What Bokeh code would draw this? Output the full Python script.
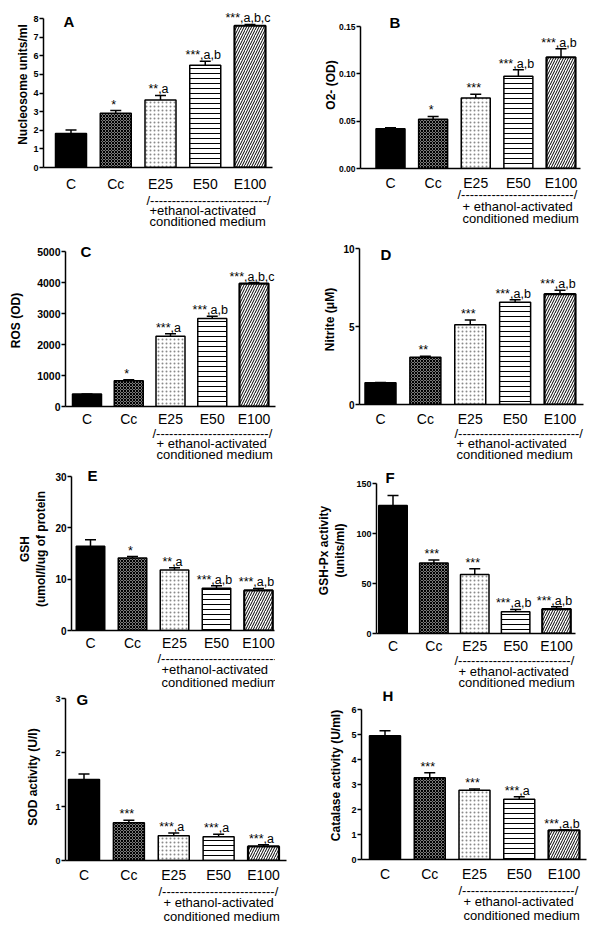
from bokeh.plotting import figure
from bokeh.models import (Range1d, FixedTicker, ColumnDataSource, Whisker, TeeHead, LabelSet,
                          Label, Title)
from bokeh.layouts import row, column
from bokeh.core.properties import value
from bokeh.embed import file_html
from bokeh.resources import INLINE

# ---------------- data ----------------
CATEGORIES = ["C", "Cc", "E25", "E50", "E100"]
NOTE_LINE2 = "conditioned medium"

A_VALUES = [1.83, 2.91, 3.63, 5.49, 7.61]
A_ERRORS = [0.18, 0.15, 0.24, 0.21, 0.07]
A_MARKS = ["", "*", "**,a", "***,a,b", "***,a,b,c"]
A_TICKS = [0, 1, 2, 3, 4, 5, 6, 7, 8]
A_TICK_LABELS = ["0", "1", "2", "3", "4", "5", "6", "7", "8"]
A_YLABEL = "Nucleosome units/ml"
A_NOTE = "+ethanol-activated"

B_VALUES = [0.042, 0.052, 0.0745, 0.0975, 0.1175]
B_ERRORS = [0.001, 0.003, 0.004, 0.0067, 0.009]
B_MARKS = ["", "*", "***", "***,a,b", "***,a,b"]
B_TICKS = [0, 0.05, 0.10, 0.15]
B_TICK_LABELS = ["0.00", "0.05", "0.10", "0.15"]
B_YLABEL = "O2- (OD)"
B_NOTE = "+ ethanol-activated"

C_VALUES = [400, 830, 2270, 2840, 3965]
C_ERRORS = [0, 30, 75, 75, 35]
C_MARKS = ["", "*", "***,a", "***,a,b", "***,a,b,c"]
C_TICKS = [0, 1000, 2000, 3000, 4000, 5000]
C_TICK_LABELS = ["0", "1000", "2000", "3000", "4000", "5000"]
C_YLABEL = "ROS (OD)"
C_NOTE = "+ ethanol-activated"

D_VALUES = [1.39, 3.03, 5.12, 6.55, 7.08]
D_ERRORS = [0.02, 0.06, 0.30, 0.17, 0.25]
D_MARKS = ["", "**", "***", "***,a,b", "***,a,b"]
D_TICKS = [0, 5, 10]
D_TICK_LABELS = ["0", "5", "10"]
D_YLABEL = "Nitrite (\u03bcM)"
D_NOTE = "+ ethanol-activated"

E_VALUES = [16.4, 14.1, 11.8, 8.25, 7.8]
E_ERRORS = [1.3, 0.3, 0.4, 0.45, 0.4]
E_MARKS = ["", "*", "**,a", "***,a,b", "***,a,b"]
E_TICKS = [0, 10, 20, 30]
E_TICK_LABELS = ["0", "10", "20", "30"]
E_YLABEL = "GSH\n(umol/l/ug of protein"
E_NOTE = "+ethanol-activated"

F_VALUES = [128.0, 70.6, 59.0, 21.8, 24.4]
F_ERRORS = [10.0, 3.0, 5.7, 2.3, 2.4]
F_MARKS = ["", "***", "***", "***,a,b", "***,a,b"]
F_TICKS = [0, 50, 100, 150]
F_TICK_LABELS = ["0", "50", "100", "150"]
F_YLABEL = "GSH-Px activity\n(units/ml)"
F_NOTE = "+ ethanol-activated"

G_VALUES = [1.50, 0.70, 0.46, 0.44, 0.26]
G_ERRORS = [0.10, 0.045, 0.05, 0.045, 0.03]
G_MARKS = ["", "***", "***,a", "***,a", "***,a"]
G_TICKS = [0, 1, 2, 3]
G_TICK_LABELS = ["0", "1", "2", "3"]
G_YLABEL = "SOD activity (U/l)"
G_NOTE = "+ ethanol-activated"

H_VALUES = [4.95, 3.27, 2.77, 2.41, 1.17]
H_ERRORS = [0.20, 0.20, 0.05, 0.10, 0.02]
H_MARKS = ["", "***", "***", "***,a", "***,a,b"]
H_TICKS = [0, 1, 2, 3, 4, 5, 6]
H_TICK_LABELS = ["0", "1", "2", "3", "4", "5", "6"]
H_YLABEL = "Catalase activity (U/ml)"
H_NOTE = "+ ethanol-activated"

# ---------------- styles ----------------
FONT = "Liberation Sans"
BAR_FILL = ["black", "#7a7a7a", "white", "white", "white"]
BAR_HATCH = ["blank", "diagonal_cross", "dot", "horizontal_line", "right_diagonal_line"]
BAR_HATCH_COLOR = ["black", "black", "#8a8a8a", "black", "black"]
BAR_HATCH_SCALE = [4, 3, 4, 5, 5]
BAR_LINE_W = [1.5, 1.5, 1.5, 1.5, 2.2]
LBL_H = 17     # approx. box height of 14px labels
TH = 16.5      # approx. box height of 13px titles

# pixel layout of each panel: frame=(axis left, axis right end, axis top, axis bottom)
LAYOUT = {
    "A": dict(fig=(0, 0, 300, 233), frame=(43, 272, 18, 167), centers=(70.5, 249.5), bar=31,
              letter=(63, 21), dash=(146, 271, 199), sub=(149, 210, 222), cat_y=184, tick_fs=9, yl_so=0),
    "B": dict(fig=(300, 0, 293, 233), frame=(360, 580, 26, 168), centers=(390, 560.5), bar=29,
              letter=(389, 21.5), dash=(457, 578, 193), sub=(462, 206, 219), cat_y=182, tick_fs=8.5, yl_so=-2),
    "C": dict(fig=(0, 233, 300, 233), frame=(65, 275, 251, 406), centers=(86.5, 253.5), bar=29,
              letter=(80, 250.5), dash=(152, 273, 432), sub=(156, 443, 455), cat_y=419, tick_fs=10.5, yl_so=11),
    "D": dict(fig=(300, 233, 293, 233), frame=(359, 583, 248, 404), centers=(380, 559.5), bar=31,
              letter=(380, 253.5), dash=(454, 583, 432), sub=(456, 443, 455), cat_y=419, tick_fs=10, yl_so=3),
    "E": dict(fig=(0, 466, 275, 226), frame=(71, 274, 476, 630), centers=(90, 258), bar=28.5,
              letter=(87, 475), dash=(157, 290, 657), sub=(161, 669, 683), cat_y=643, tick_fs=10, yl_so=4),
    "F": dict(fig=(300, 466, 293, 224), frame=(376, 575, 483, 633), centers=(392.5, 556), bar=28.5,
              letter=(385, 477), dash=(454, 575, 659), sub=(458, 671, 683), cat_y=646, tick_fs=9, yl_so=6),
    "G": dict(fig=(0, 692, 300, 238), frame=(65, 286, 698, 860), centers=(83.5, 263), bar=31,
              letter=(76, 698.5), dash=(158, 276, 890), sub=(163, 902, 917), cat_y=874, tick_fs=9, yl_so=12),
    "H": dict(fig=(300, 690, 293, 240), frame=(361, 586, 709, 859), centers=(384.5, 563.5), bar=31,
              letter=(382, 695), dash=(458, 578, 889), sub=(463, 901, 916), cat_y=874, tick_fs=9, yl_so=5),
}


def panel(letter, values, errors, marks, ticks, tick_labels, ylabel, note):
    L = LAYOUT[letter]
    fx, fy, fw, fh = L["fig"]
    fl, fr, at, fb = L["frame"]
    c1, c5 = L["centers"]
    n = len(CATEGORIES)
    sp = (c5 - c1) / (n - 1)
    mbl = round(fl - fx)
    fl = fx + mbl
    x0 = 1 - (c1 - fl) / sp
    x_axis_end = n + (fr - c5) / sp
    fr2 = min(fx + fw, fr + 8)
    x1 = n + (fr2 - c5) / sp
    ymax = ticks[-1]
    ft2 = fy + 1
    y_top = ymax * (fb - ft2) / (fb - at)

    def X(px):
        return x0 + (px - fl) / sp

    def Y(py):
        return ymax * (fb - py) / (fb - at)

    p = figure(width=fw, height=fh, x_range=Range1d(x0, x1), y_range=Range1d(0, y_top),
               output_backend="svg", toolbar_location=None, frame_align=False,
               min_border_left=mbl, min_border_right=round(fx + fw - fr2),
               min_border_top=round(ft2 - fy), min_border_bottom=round(fy + fh - fb))
    p.grid.visible = False
    p.outline_line_color = None
    p.background_fill_color = "white"
    p.border_fill_color = "white"

    xs = list(range(1, n + 1))
    src = ColumnDataSource(dict(
        x=xs, top=values, hi=[v + e for v, e in zip(values, errors)], mark=marks,
        fill=BAR_FILL, hatch=BAR_HATCH, hcol=BAR_HATCH_COLOR, hscale=BAR_HATCH_SCALE, lw=BAR_LINE_W))

    p.vbar(x="x", top="top", bottom=0, width=L["bar"] / sp, source=src,
           fill_color="fill", line_color="black", line_width="lw",
           hatch_pattern="hatch", hatch_color="hcol", hatch_scale="hscale", hatch_weight=1)

    p.add_layout(Whisker(source=src, base="x", lower="top", upper="hi", dimension="height",
                         line_color="black", line_width=1.5,
                         upper_head=TeeHead(size=11, line_color="black", line_width=1.5),
                         lower_head=None))

    p.add_layout(LabelSet(source=src, x="x", y="hi", text="mark", text_align="center",
                          text_baseline="alphabetic", x_offset=-2, y_offset=2,
                          text_font=value(FONT), text_font_size=value("12.5px"), text_color="black"))

    p.add_layout(Label(x=X(L["letter"][0]), y=Y(L["letter"][1]), text=letter, text_font=FONT,
                       text_font_size="15px", text_font_style="bold", text_align="left",
                       text_baseline="middle", text_color="black"))

    xa = p.xaxis[0]
    xa.ticker = FixedTicker(ticks=xs)
    xa.bounds = (x0, x_axis_end)
    xa.major_label_overrides = {i + 1: c for i, c in enumerate(CATEGORIES)}
    xa.major_tick_line_color = None
    xa.minor_tick_line_color = None
    xa.major_tick_out = 0
    xa.major_tick_in = 0
    xa.axis_line_width = 1.5
    xa.axis_line_color = "black"
    xa.major_label_text_font = FONT
    xa.major_label_text_font_size = "14px"
    xa.major_label_text_color = "black"
    s_cat = max(0, round(L["cat_y"] - fb - LBL_H / 2))
    xa.major_label_standoff = s_cat

    # the bracket and the two-line note under E25..E100
    dl, dr, dy = L["dash"]
    nd = max(1, round((dr - dl - 7.2) / 4.33))
    sx, sy1, sy2 = L["sub"]
    cur = fb + s_cat + LBL_H
    for txt, left, cy in (("/" + "-" * nd + "/", dl, dy - 1), (note, sx, sy1), (NOTE_LINE2, sx, sy2)):
        st = max(-round(2 + TH) + 2, round(2 * (cy - cur) - (2 + TH)))
        p.add_layout(Title(text=txt, align="left", offset=left - fl, standoff=st,
                           vertical_align="middle", text_font=FONT, text_font_size="13px",
                           text_font_style="normal", text_color="black"), "below")
        cur += 2 + TH + st

    ya = p.yaxis[0]
    ya.ticker = FixedTicker(ticks=ticks)
    ya.bounds = (0, ymax)
    ya.major_label_overrides = dict(zip(ticks, tick_labels))
    ya.major_tick_out = 4
    ya.major_tick_in = 0
    ya.major_tick_line_width = 1.5
    ya.major_tick_line_color = "black"
    ya.minor_tick_line_color = None
    ya.axis_line_width = 1.5
    ya.axis_line_color = "black"
    ya.major_label_text_font = FONT
    ya.major_label_text_font_style = "bold"
    ya.major_label_text_font_size = f"{L['tick_fs']}px"
    ya.major_label_text_color = "black"
    ya.major_label_standoff = 1
    ya.axis_label = ylabel
    ya.axis_label_text_font = FONT
    ya.axis_label_text_font_style = "bold"
    ya.axis_label_text_font_size = "12px"
    ya.axis_label_text_color = "black"
    ya.axis_label_standoff = L["yl_so"]
    return p


pA = panel("A", A_VALUES, A_ERRORS, A_MARKS, A_TICKS, A_TICK_LABELS, A_YLABEL, A_NOTE)
pB = panel("B", B_VALUES, B_ERRORS, B_MARKS, B_TICKS, B_TICK_LABELS, B_YLABEL, B_NOTE)
pC = panel("C", C_VALUES, C_ERRORS, C_MARKS, C_TICKS, C_TICK_LABELS, C_YLABEL, C_NOTE)
pD = panel("D", D_VALUES, D_ERRORS, D_MARKS, D_TICKS, D_TICK_LABELS, D_YLABEL, D_NOTE)
pE = panel("E", E_VALUES, E_ERRORS, E_MARKS, E_TICKS, E_TICK_LABELS, E_YLABEL, E_NOTE)
pF = panel("F", F_VALUES, F_ERRORS, F_MARKS, F_TICKS, F_TICK_LABELS, F_YLABEL, F_NOTE)
pG = panel("G", G_VALUES, G_ERRORS, G_MARKS, G_TICKS, G_TICK_LABELS, G_YLABEL, G_NOTE)
pH = panel("H", H_VALUES, H_ERRORS, H_MARKS, H_TICKS, H_TICK_LABELS, H_YLABEL, H_NOTE)

page = row(column(pA, pC, pE, pG), column(pB, pD, pF, pH))

open("out.html", "w").write(file_html(page, INLINE))
